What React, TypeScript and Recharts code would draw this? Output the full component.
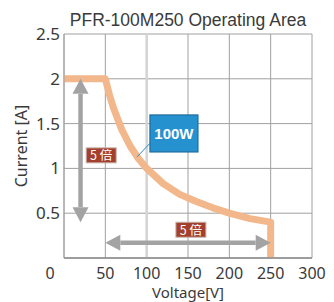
import React from 'react';
import { LineChart, Line, XAxis, YAxis, CartesianGrid, ReferenceLine, ReferenceDot } from 'recharts';

// operating boundary
const voltage = [0, 50, 55, 60, 70, 80, 90, 100, 120, 140, 160, 180, 200, 225, 250, 250];
const current = [2, 2, 1.82, 1.67, 1.43, 1.25, 1.11, 1, 0.83, 0.71, 0.63, 0.56, 0.5, 0.44, 0.4, 0];

const xTicks = [0, 50, 100, 150, 200, 250, 300];
const yTicks = [0.5, 1, 1.5, 2, 2.5];

const data = voltage.map((v, i) => ({ v, i: current[i] }));

const textColor = '#3a3a3a';
const arrowColor = '#a3a3a3';

const XTick = (props: any) => {
  const { x, y, payload } = props;
  return (
    <text
      x={payload.value === 0 ? x - 14 : x}
      y={y}
      dy={13}
      textAnchor="middle"
      fill={textColor}
      fontSize={16}
      fontFamily="Noto Sans, sans-serif"
    >
      {payload.value}
    </text>
  );
};

const Arrow = (props: any) => {
  const { x1, y1, x2, y2 } = props;
  const len = Math.hypot(x2 - x1, y2 - y1);
  const ux = (x2 - x1) / len;
  const uy = (y2 - y1) / len;
  const hl = 15;
  const hw = 8;
  const head = (tx: number, ty: number, dx: number, dy: number) => {
    const bx = tx - dx * hl;
    const by = ty - dy * hl;
    return `${tx},${ty} ${bx - dy * hw},${by + dx * hw} ${bx + dy * hw},${by - dx * hw}`;
  };
  return (
    <g>
      <line
        x1={x1 + ux * hl}
        y1={y1 + uy * hl}
        x2={x2 - ux * hl}
        y2={y2 - uy * hl}
        stroke={arrowColor}
        strokeWidth={4.5}
      />
      <polygon points={head(x2, y2, ux, uy)} fill={arrowColor} />
      <polygon points={head(x1, y1, -ux, -uy)} fill={arrowColor} />
    </g>
  );
};

const TimesBox = (props: any) => {
  const { cx, cy } = props;
  return (
    <g>
      <rect x={cx - 15} y={cy - 8} width={30} height={15} fill="#a3402d" stroke="#c8b3ad" strokeWidth={1} />
      <text
        x={cx}
        y={cy}
        dy={4.5}
        textAnchor="middle"
        fill="#ffffff"
        fontSize={12.5}
        fontFamily="Noto Sans CJK JP, sans-serif"
      >
        5 倍
      </text>
    </g>
  );
};

const PowerBox = (props: any) => {
  const { cx, cy } = props;
  return (
    <g>
      <rect x={cx - 24} y={cy - 18.5} width={48} height={37} fill="#2592cf" stroke="#1c6c9c" strokeWidth={1.2} />
      <text
        x={cx}
        y={cy}
        dy={5.5}
        textAnchor="middle"
        fill="#ffffff"
        fontSize={15}
        fontWeight="bold"
        fontFamily="Liberation Sans, Arial, sans-serif"
      >
        100W
      </text>
    </g>
  );
};

export default function App() {
  return (
    <div style={{ position: 'absolute', left: 0, top: 0, width: 334, height: 302, background: '#fff' }}>
      <div
        style={{
          position: 'absolute',
          left: 0,
          top: 8,
          width: 376,
          textAlign: 'center',
          fontFamily: 'Liberation Sans, Arial, sans-serif',
          fontSize: 17.5,
          lineHeight: '24px',
          color: textColor,
        }}
      >
        PFR-100M250 Operating Area
      </div>
      <LineChart width={334} height={302} data={data} margin={{ top: 34, right: 22, bottom: 0, left: 0 }}>
        <CartesianGrid stroke="#a0a0a0" strokeWidth={1} />
        <ReferenceLine x={100} stroke="#d4d4d4" strokeWidth={2.5} />
        <XAxis
          type="number"
          dataKey="v"
          domain={[0, 300]}
          ticks={xTicks}
          interval={0}
          height={44}
          tickLine={false}
          axisLine={{ stroke: '#8c8c8c', strokeWidth: 1.5 }}
          tick={<XTick />}
          label={{
            value: 'Voltage[V]',
            position: 'insideBottom',
            offset: 4,
            fill: textColor,
            fontSize: 15,
            fontFamily: 'Noto Sans, sans-serif',
          }}
        />
        <YAxis
          type="number"
          domain={[0, 2.5]}
          ticks={yTicks}
          interval={0}
          width={64}
          tickLine={false}
          tickSize={2}
          axisLine={{ stroke: '#a0a0a0' }}
          tick={{ fill: textColor, fontSize: 17, fontFamily: 'Noto Sans, sans-serif' }}
          label={{
            value: 'Current [A]',
            angle: -90,
            position: 'insideLeft',
            offset: 21,
            fill: textColor,
            fontSize: 16,
            fontFamily: 'Noto Sans, sans-serif',
            style: { textAnchor: 'middle' },
          }}
        />
        <Line
          type="linear"
          dataKey="i"
          stroke="#f2b88c"
          strokeWidth={7}
          strokeLinejoin="round"
          dot={false}
          isAnimationActive={false}
        />
        <ReferenceLine segment={[{ x: 20, y: 2 }, { x: 20, y: 0.4 }]} shape={<Arrow />} />
        <ReferenceLine segment={[{ x: 50, y: 0.17 }, { x: 250, y: 0.17 }]} shape={<Arrow />} />
        <ReferenceLine segment={[{ x: 104, y: 1.28 }, { x: 88.5, y: 1.13 }]} stroke="#2a8ac0" strokeWidth={1} />
        <ReferenceDot x={45} y={1.14} shape={<TimesBox />} />
        <ReferenceDot x={153.5} y={0.31} shape={<TimesBox />} />
        <ReferenceDot x={133} y={1.39} shape={<PowerBox />} />
      </LineChart>
    </div>
  );
}
